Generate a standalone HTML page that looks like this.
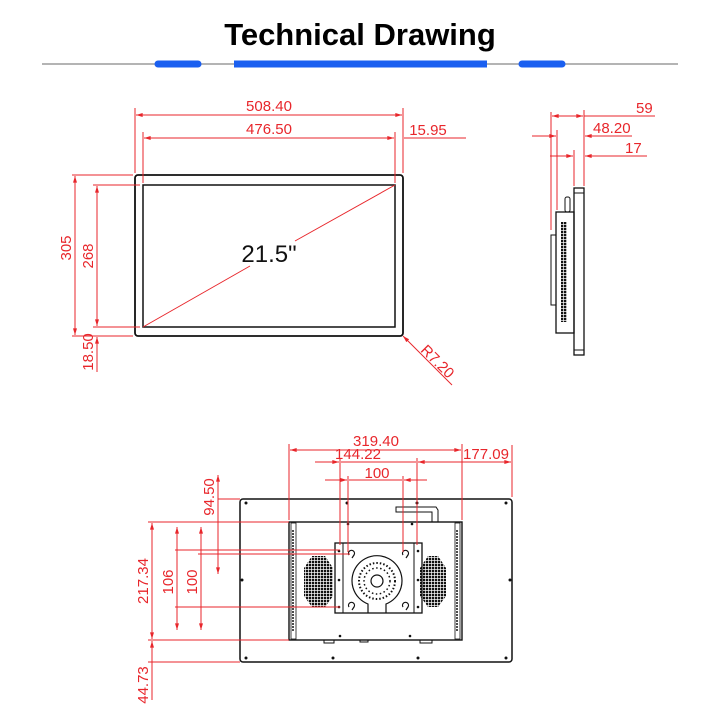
<!DOCTYPE html>
<html><head><meta charset="utf-8"><style>
html,body{margin:0;padding:0;background:#fff;width:720px;height:720px;overflow:hidden}
svg{display:block}
.r{stroke:#e8262b;stroke-width:1;fill:none}
.k{stroke:#111;fill:none}
.t{fill:#e8262b;font-family:"Liberation Sans",sans-serif;font-size:15px}
</style></head><body>
<svg width="720" height="720" viewBox="0 0 720 720" xmlns="http://www.w3.org/2000/svg">
<defs>
<pattern id="g" width="3" height="3" patternUnits="userSpaceOnUse"><rect width="3" height="3" fill="#fff"/><rect width="2.3" height="2.3" fill="#111"/></pattern>
<marker id="a" viewBox="0 0 10 6" refX="10" refY="3" markerWidth="8" markerHeight="4" orient="auto-start-reverse"><path d="M0,0L10,3L0,6z" fill="#e8262b"/></marker>
</defs>
<text x="360" y="45" text-anchor="middle" font-family="Liberation Sans,sans-serif" font-weight="bold" font-size="31" fill="#000">Technical Drawing</text>
<line x1="42" y1="64" x2="678" y2="64" stroke="#888" stroke-width="1.2"/>
<g stroke="#1a5ff0" stroke-width="7" stroke-linecap="round"><line x1="158" y1="64" x2="198" y2="64"/><line x1="234" y1="64" x2="487" y2="64" stroke-linecap="butt"/><line x1="522" y1="64" x2="562" y2="64"/></g>

<!-- FRONT -->
<rect x="135" y="175" width="268" height="161" rx="3" class="k" stroke-width="1.8"/>
<rect x="143" y="185" width="252" height="142" class="k" stroke-width="1.5"/>
<line x1="143" y1="327" x2="250" y2="266" class="r"/><line x1="295" y1="241" x2="395" y2="185" class="r"/>
<text x="269" y="262" text-anchor="middle" font-family="Liberation Sans,sans-serif" font-size="24" fill="#111">21.5"</text>
<g class="r">
<line x1="135" y1="108" x2="135" y2="173"/><line x1="403" y1="108" x2="403" y2="173"/>
<line x1="136" y1="115" x2="402" y2="115" marker-start="url(#a)" marker-end="url(#a)"/>
<line x1="143" y1="132" x2="143" y2="183"/><line x1="395" y1="132" x2="395" y2="183"/>
<line x1="144" y1="138" x2="394" y2="138" marker-start="url(#a)" marker-end="url(#a)"/>
<line x1="404" y1="138" x2="466" y2="138"/>
<line x1="72" y1="175" x2="133" y2="175"/><line x1="72" y1="336" x2="133" y2="336"/>
<line x1="93" y1="185" x2="140" y2="185"/><line x1="93" y1="327" x2="140" y2="327"/>
<line x1="75" y1="176" x2="75" y2="335" marker-start="url(#a)" marker-end="url(#a)"/>
<line x1="97" y1="186" x2="97" y2="326" marker-start="url(#a)" marker-end="url(#a)"/>
<line x1="97" y1="337" x2="97" y2="372" marker-start="url(#a)"/>
<line x1="403" y1="336" x2="452" y2="385" marker-start="url(#a)"/>
</g>
<text class="t" x="269" y="111" text-anchor="middle">508.40</text>
<text class="t" x="269" y="134" text-anchor="middle">476.50</text>
<text class="t" x="428" y="135" text-anchor="middle">15.95</text>
<text class="t" transform="translate(71,248) rotate(-90)" text-anchor="middle">305</text>
<text class="t" transform="translate(93,256) rotate(-90)" text-anchor="middle">268</text>
<text class="t" transform="translate(93,352) rotate(-90)" text-anchor="middle">18.50</text>
<text class="t" transform="translate(434,365) rotate(45)" text-anchor="middle">R7.20</text>

<!-- SIDE -->
<rect x="574" y="188" width="10" height="167" class="k" stroke-width="1.3"/>
<line x1="574" y1="193" x2="584" y2="193" class="k"/><line x1="574" y1="350" x2="584" y2="350" class="k"/>
<rect x="556" y="212" width="18" height="121" class="k" stroke-width="1.3"/>
<rect x="561" y="222" width="6" height="100" fill="url(#g)"/>
<rect x="551" y="235" width="5" height="70" class="k"/>
<rect x="565" y="197" width="5" height="15" rx="2" class="k"/>
<g class="r">
<line x1="551" y1="112" x2="551" y2="230"/><line x1="557" y1="130" x2="557" y2="210"/>
<line x1="574" y1="150" x2="574" y2="186"/><line x1="584" y1="110" x2="584" y2="186"/>
<line x1="552" y1="116" x2="583" y2="116" marker-start="url(#a)" marker-end="url(#a)"/><line x1="584" y1="116" x2="655" y2="116"/>
<line x1="532" y1="136" x2="556" y2="136" marker-end="url(#a)"/><line x1="585" y1="136" x2="632" y2="136" marker-start="url(#a)"/>
<line x1="550" y1="156" x2="573" y2="156" marker-end="url(#a)"/><line x1="585" y1="156" x2="647" y2="156" marker-start="url(#a)"/>
</g>
<text class="t" x="636" y="113">59</text>
<text class="t" x="593" y="133">48.20</text>
<text class="t" x="625" y="153">17</text>

<!-- BACK -->
<rect x="240" y="499" width="272" height="163" rx="3" class="k" stroke-width="1.5"/>
<g fill="#111">
<circle cx="246" cy="503" r="1.5"/><circle cx="506" cy="503" r="1.5"/><circle cx="246" cy="658" r="1.5"/><circle cx="506" cy="658" r="1.5"/>
<circle cx="347" cy="503" r="1.5"/><circle cx="417" cy="503" r="1.5"/><circle cx="333" cy="658" r="1.5"/><circle cx="418" cy="658" r="1.5"/>
<circle cx="242" cy="580" r="1.5"/><circle cx="510" cy="580" r="1.5"/>
<circle cx="348" cy="524" r="1.3"/><circle cx="412" cy="524" r="1.3"/><circle cx="340" cy="636" r="1.3"/><circle cx="410" cy="636" r="1.3"/>
</g>
<rect x="289" y="522" width="173" height="118" class="k" stroke-width="1.4"/>
<rect x="291" y="523" width="5" height="116" class="k" stroke-width="0.8"/><rect x="455" y="523" width="5" height="116" class="k" stroke-width="0.8"/>
<line x1="293" y1="530" x2="293" y2="632" stroke="#111" stroke-width="1.5" stroke-dasharray="2 1"/>
<line x1="457" y1="530" x2="457" y2="632" stroke="#111" stroke-width="1.5" stroke-dasharray="2 1"/>
<path d="M396,507 H436 L438,510 V522 H432 V512 H396 z" class="k" stroke-width="1"/>
<path d="M304,568 L312,556 H325 L333,568 V596 L325,607 H312 L304,596 z" fill="url(#g)"/>
<path d="M420,568 L428,556 H438 L446,568 V596 L438,607 H428 L420,596 z" fill="url(#g)"/>
<rect x="335" y="543" width="87" height="70" class="k" stroke-width="1.3"/>
<line x1="343" y1="543" x2="343" y2="613" class="k"/><line x1="414" y1="543" x2="414" y2="613" class="k"/>
<path d="M368,613 V604 A25,25 0 1 1 386,604 V613" class="k" stroke-width="1.2"/>
<circle cx="377" cy="581" r="18" fill="none" stroke="#111" stroke-width="2" stroke-dasharray="1.5 2"/>
<circle cx="377" cy="581" r="13" fill="none" stroke="#111" stroke-width="1.5" stroke-dasharray="1.5 2.5"/>
<circle cx="377" cy="581" r="6" class="k" stroke-width="1.2"/>
<g fill="#111"><circle cx="339" cy="551" r="1.3"/><circle cx="339" cy="580" r="1.3"/><circle cx="339" cy="607" r="1.3"/><circle cx="418" cy="551" r="1.3"/><circle cx="418" cy="580" r="1.3"/><circle cx="418" cy="607" r="1.3"/></g>
<g class="k" stroke-width="1.2"><path d="M349,555 a3,3 0 1 1 5,0 l-2,3"/><path d="M403,555 a3,3 0 1 1 5,0 l-2,3"/><path d="M349,607 a3,3 0 1 1 5,0 l-2,3"/><path d="M403,607 a3,3 0 1 1 5,0 l-2,3"/></g>
<g class="k" stroke-width="1"><rect x="324" y="640" width="10" height="3"/><rect x="360" y="640" width="8" height="2"/><rect x="420" y="640" width="12" height="3"/></g>
<g class="r">
<line x1="289" y1="444" x2="289" y2="520"/><line x1="462" y1="444" x2="462" y2="520"/>
<line x1="290" y1="450" x2="461" y2="450" marker-start="url(#a)" marker-end="url(#a)"/>
<line x1="512" y1="445" x2="512" y2="497"/>
<line x1="315" y1="462" x2="339" y2="462" marker-end="url(#a)"/><line x1="341" y1="462" x2="416" y2="462"/><line x1="418" y1="462" x2="511" y2="462" marker-start="url(#a)" marker-end="url(#a)"/>
<line x1="340" y1="458" x2="340" y2="545"/><line x1="417" y1="458" x2="417" y2="545"/>
<line x1="325" y1="480" x2="347" y2="480" marker-end="url(#a)"/><line x1="349" y1="480" x2="402" y2="480"/><line x1="404" y1="480" x2="427" y2="480" marker-start="url(#a)"/>
<line x1="348" y1="476" x2="348" y2="552"/><line x1="403" y1="476" x2="403" y2="552"/>
<line x1="148" y1="522" x2="289" y2="522"/><line x1="148" y1="640" x2="289" y2="640"/>
<line x1="152" y1="523" x2="152" y2="639" marker-start="url(#a)" marker-end="url(#a)"/>
<line x1="152" y1="641" x2="152" y2="700" marker-start="url(#a)"/>
<line x1="148" y1="662" x2="240" y2="662"/>
<line x1="175" y1="550" x2="340" y2="550"/><line x1="175" y1="607" x2="340" y2="607"/>
<line x1="177" y1="527" x2="177" y2="630" marker-start="url(#a)" marker-end="url(#a)"/>
<line x1="198" y1="554" x2="350" y2="554"/>
<line x1="201" y1="527" x2="201" y2="630" marker-start="url(#a)" marker-end="url(#a)"/>
<line x1="218" y1="499" x2="240" y2="499"/>
<line x1="218" y1="475" x2="218" y2="574" marker-start="url(#a)" marker-end="url(#a)"/>
</g>
<text class="t" x="376" y="446" text-anchor="middle">319.40</text>
<text class="t" x="358" y="459" text-anchor="middle">144.22</text>
<text class="t" x="486" y="459" text-anchor="middle">177.09</text>
<text class="t" x="377" y="478" text-anchor="middle">100</text>
<text class="t" transform="translate(214,497) rotate(-90)" text-anchor="middle">94.50</text>
<text class="t" transform="translate(148,581) rotate(-90)" text-anchor="middle">217.34</text>
<text class="t" transform="translate(173,582) rotate(-90)" text-anchor="middle">106</text>
<text class="t" transform="translate(197,582) rotate(-90)" text-anchor="middle">100</text>
<text class="t" transform="translate(148,685) rotate(-90)" text-anchor="middle">44.73</text>
</svg>
</body></html>
